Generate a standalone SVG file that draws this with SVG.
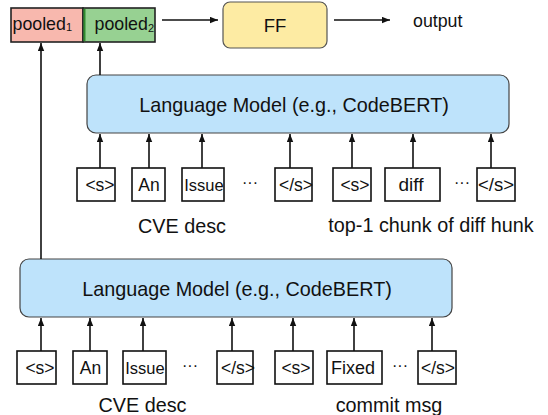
<svg xmlns="http://www.w3.org/2000/svg" width="548" height="415" viewBox="0 0 548 415">
<style>
text{font-family:"Liberation Sans",Arial,Helvetica,sans-serif;fill:#111}
.lm{fill:#BEE3FB;stroke:#444;stroke-width:1.2}
.tok{fill:#fff;stroke:#111;stroke-width:1.6}
.tt{font-size:17.5px;text-anchor:middle}
.dots{font-size:16px;text-anchor:middle}
.big{font-size:19.8px;text-anchor:middle}
.conn line{stroke:#111;stroke-width:1.6;marker-end:url(#ah)}
</style>
<defs>
<marker id="ah" viewBox="0 0 10 8" refX="10" refY="4" markerWidth="8" markerHeight="7" markerUnits="userSpaceOnUse" orient="auto">
<path d="M0,0 L10,4 L0,8 z" fill="#111"/>
</marker>
</defs>

<g id="pooled1">
<rect x="11" y="8" width="72" height="34" fill="#F8B8AE" stroke="#222" stroke-width="1.6"/>
<text x="12.5" y="30" style="font-size:17.8px">pooled<tspan style="font-size:11px" dy="1">1</tspan></text>
</g>
<g id="pooled2">
<rect x="83" y="8" width="72" height="34" fill="#97D192" stroke="#222" stroke-width="1.6"/>
<line x1="84.5" y1="8.8" x2="84.5" y2="41.2" stroke="#2E8B2E" stroke-width="2"/>
<text x="94.5" y="30" style="font-size:17.8px">pooled<tspan style="font-size:11px" dy="2">2</tspan></text>
</g>
<g id="ff">
<rect x="223" y="2" width="104" height="46" rx="7" fill="#FDEBA3" stroke="#555" stroke-width="1.2"/>
<text x="275" y="32" style="font-size:18.5px;text-anchor:middle">FF</text>
</g>
<g id="output">
<text x="413" y="27" style="font-size:17.8px">output</text>
</g>

<g id="lm-top">
<rect class="lm" x="87" y="75" width="422" height="58" rx="9"/>
<text class="big" x="294" y="112">Language Model (e.g., CodeBERT)</text>
</g>
<g id="lm-bottom">
<rect class="lm" x="20" y="259" width="432" height="58" rx="9"/>
<text class="big" x="237" y="296">Language Model (e.g., CodeBERT)</text>
</g>

<g id="top-tokens">
<g id="t-s1"><rect class="tok" x="77" y="168" width="38" height="33"/><text class="tt" x="100" y="191">&lt;s&gt;</text></g>
<g id="t-an"><rect class="tok" x="132" y="168" width="33" height="33"/><text class="tt" x="149" y="191">An</text></g>
<g id="t-issue"><rect class="tok" x="182" y="168" width="42" height="33"/><text class="tt" x="204" y="191" style="font-size:16.5px">Issue</text></g>
<text class="dots" x="250" y="188">···</text>
<g id="t-es1"><rect class="tok" x="275" y="168" width="37" height="33"/><text class="tt" x="296" y="191">&lt;/s&gt;</text></g>
<g id="t-s2"><rect class="tok" x="333" y="168" width="38" height="33"/><text class="tt" x="355" y="191">&lt;s&gt;</text></g>
<g id="t-diff"><rect class="tok" x="385" y="168" width="55" height="33"/><text class="tt" x="411" y="191" style="font-size:19px">diff</text></g>
<text class="dots" x="462" y="188">···</text>
<g id="t-es2"><rect class="tok" x="477" y="168" width="38" height="33"/><text class="tt" x="496" y="191" style="font-size:18.5px">&lt;/s&gt;</text></g>
</g>
<g id="top-labels">
<text class="big" x="182" y="233">CVE desc</text>
<text class="big" x="431" y="232">top-1 chunk of diff hunk</text>
</g>

<g id="bottom-tokens">
<g id="b-s1"><rect class="tok" x="17" y="351" width="39" height="33"/><text class="tt" x="40" y="374">&lt;s&gt;</text></g>
<g id="b-an"><rect class="tok" x="73" y="351" width="34" height="33"/><text class="tt" x="90.5" y="374">An</text></g>
<g id="b-issue"><rect class="tok" x="123" y="351" width="43" height="33"/><text class="tt" x="145" y="374" style="font-size:16.5px">Issue</text></g>
<text class="dots" x="190" y="371">···</text>
<g id="b-es1"><rect class="tok" x="217" y="351" width="36" height="33"/><text class="tt" x="238" y="374">&lt;/s&gt;</text></g>
<g id="b-s2"><rect class="tok" x="275" y="351" width="38" height="33"/><text class="tt" x="296" y="374">&lt;s&gt;</text></g>
<g id="b-fixed"><rect class="tok" x="327" y="351" width="55" height="33"/><text class="tt" x="353" y="374" style="font-size:18px">Fixed</text></g>
<text class="dots" x="400" y="371">···</text>
<g id="b-es2"><rect class="tok" x="418" y="351" width="38" height="33"/><text class="tt" x="438" y="374">&lt;/s&gt;</text></g>
</g>
<g id="bottom-labels">
<text class="big" x="142.5" y="412">CVE desc</text>
<text class="big" x="389" y="412">commit msg</text>
</g>

<g id="connectors" class="conn">
<line x1="162" y1="20" x2="218" y2="20"/>
<line x1="334" y1="20" x2="390" y2="20"/>
<line x1="41" y1="259" x2="41" y2="43"/>
<line x1="100" y1="75" x2="100" y2="43"/>
<line x1="100" y1="168" x2="100" y2="134"/>
<line x1="149" y1="168" x2="149" y2="134"/>
<line x1="202" y1="168" x2="202" y2="134"/>
<line x1="290" y1="168" x2="290" y2="134"/>
<line x1="352" y1="168" x2="352" y2="134"/>
<line x1="413" y1="168" x2="413" y2="134"/>
<line x1="491" y1="168" x2="491" y2="134"/>
<line x1="41" y1="351" x2="41" y2="318"/>
<line x1="90" y1="351" x2="90" y2="318"/>
<line x1="143" y1="351" x2="143" y2="318"/>
<line x1="232" y1="351" x2="232" y2="318"/>
<line x1="293" y1="351" x2="293" y2="318"/>
<line x1="354" y1="351" x2="354" y2="318"/>
<line x1="432" y1="351" x2="432" y2="318"/>
</g>
</svg>
